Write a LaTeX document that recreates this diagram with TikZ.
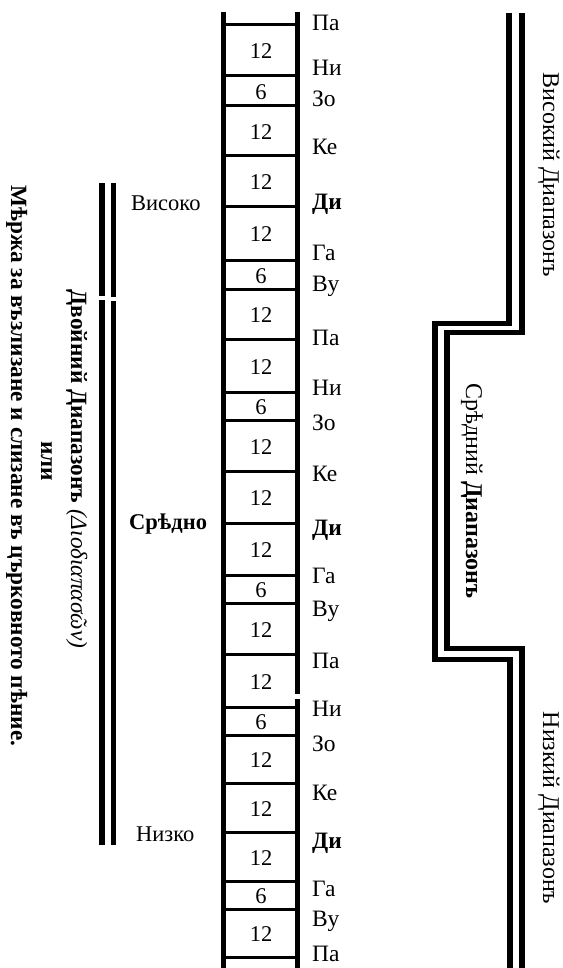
\documentclass[tikz,border=0pt]{standalone}
\usepackage{fontspec}
\setmainfont{Liberation Serif}
\begin{document}
\begin{tikzpicture}[x=1pt,y=-1pt,
  rail/.style={line width=5pt},
  rung/.style={line width=3pt},
  dbar/.style={line width=5.5pt,line join=miter},
  note/.style={anchor=base west,inner sep=0pt,font=\fontsize{23.5}{26}\selectfont},
  num/.style={anchor=base,inner sep=0pt,font=\fontsize{22.5}{26}\selectfont},
  side/.style={anchor=base west,inner sep=0pt,font=\fontsize{22.5}{26}\selectfont},
  vtext/.style={anchor=base,inner sep=0pt,rotate=-90,font=\fontsize{24}{26}\selectfont},
  ltext/.style={anchor=base,inner sep=0pt,rotate=-90,font=\fontsize{23.3}{26}\selectfont}]
\useasboundingbox (0,0) rectangle (562,968);
% ladder rails
\draw[rail] (223,12) -- (223,968);
\draw[rail] (297,12) -- (297,694);
\draw[rail] (297,699) -- (297,968);
% rungs
\foreach \y in {25,76,106,156,207,260,289,339,392,420,471,523,575,603,654,707,735,783,832,881,909,957}
  \draw[rung] (225,\y) -- (295,\y);
% interval numbers
\foreach \a/\b/\n in {25/76/12,76/106/6,106/156/12,156/207/12,207/260/12,260/289/6,289/339/12,
  339/392/12,392/420/6,420/471/12,471/523/12,523/575/12,575/603/6,603/654/12,
  654/707/12,707/735/6,735/783/12,783/832/12,832/881/12,881/909/6,909/957/12}
  \node[num] (n\a) at (261,{(\a+\b)/2+8.5}) {\n};
% note names
\foreach \y/\t in {23/Па,68/Ни,99/Зо,147/Ке,202/\textbf{Ди},252/Га,283/Ву,
  337/Па,387/Ни,422/Зо,473/Ке,527/\textbf{Ди},575/Га,608/Ву,
  660/Па,708/Ни,743/Зо,792/Ке,840/\textbf{Ди},888/Га,918/Ву,953/Па}
  \node[note] (l\y) at (312,{\y+8}) {\t};
% register names
\node[side] (vis) at (131,211) {Високо};
\node[side] (sred) at (129,529) {\textbf{Срѣдно}};
\node[side] (niz) at (136,841) {Низко};
% left double bar
\draw[line width=6pt] (102,183) -- (102,296);
\draw[line width=6pt] (102,300) -- (102,845);
\draw[line width=5pt] (113,183) -- (113,297);
\draw[line width=5pt] (113,301) -- (113,845);
% left texts
\node[ltext] (dvoen) at (71,469) {\textbf{Двойний Диапазонъ} \textit{(Διοδιαπασῶν)}};
\node[ltext] (ili) at (41,461) {\textbf{или}};
\node[ltext] (merka) at (11,466) {\textbf{Мѣржа за възлизане и слизане въ църковното пѣние.}};
% right staircase
\draw[dbar] (509,13) -- (509,323.5) -- (435,323.5) -- (435,659.5) -- (510,659.5) -- (510,968);
\draw[dbar] (522,13) -- (522,332.5) -- (447,332.5) -- (447,648.5) -- (522,648.5) -- (522,968);
\node[vtext] (visd) at (543,175) {Високий Диапазонъ};
\node[vtext] (sredd) at (466,491) {Срѣдний \textbf{Диапазонъ}};
\node[vtext] (nizd) at (543,808) {Низкий Диапазонъ};
% speck
\fill (436,603) circle (1.5);
\end{tikzpicture}
\end{document}
